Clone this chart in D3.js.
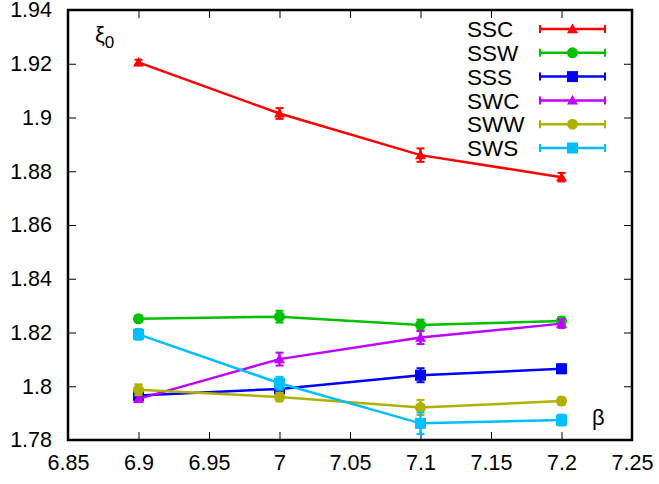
<!DOCTYPE html>
<html>
<head>
<meta charset="utf-8">
<script src="https://cdn.jsdelivr.net/npm/d3@7"></script>
<style>
  body { margin: 0; background: #fff; }
  text { font-family: "Liberation Sans", Arial, sans-serif; }
</style>
</head>
<body>
<svg id="chart"></svg>
<script>
// beta values
const betas = [6.9, 7.0, 7.1, 7.2];

// series names, colours, marker
const seriesNames = ["SSC", "SSW", "SSS", "SWC", "SWW", "SWS"];
const seriesColors = ["#ff0000", "#00c000", "#0000ff", "#c000ff", "#b0b000", "#00bfff"];
const seriesMarkers = ["triangle", "circle", "square", "triangle", "circle", "square"];

// xi_0 values
const ssc = [1.9205, 1.9015, 1.8860, 1.8778];
const ssw = [1.8251, 1.8259, 1.8228, 1.8243];
const sss = [1.7966, 1.7990, 1.8041, 1.8065];
const swc = [1.7953, 1.8101, 1.8181, 1.8233];
const sww = [1.7987, 1.7960, 1.7921, 1.7945];
const sws = [1.8193, 1.8011, 1.7862, 1.7874];

// error bars
const sscErr = [0.0010, 0.0020, 0.0025, 0.0016];
const sswErr = [0.0012, 0.0022, 0.0020, 0.0014];
const sssErr = [0.0012, 0.0016, 0.0026, 0.0016];
const swcErr = [0.0012, 0.0024, 0.0024, 0.0016];
const swwErr = [0.0020, 0.0016, 0.0028, 0.0014];
const swsErr = [0.0020, 0.0024, 0.0040, 0.0020];

const allValues = [ssc, ssw, sss, swc, sww, sws];
const allErrors = [sscErr, sswErr, sssErr, swcErr, swwErr, swsErr];

const xTicks = [6.85, 6.9, 6.95, 7.0, 7.05, 7.1, 7.15, 7.2, 7.25];
const yTicks = [1.78, 1.8, 1.82, 1.84, 1.86, 1.88, 1.9, 1.92, 1.94];

const W = 659, H = 484;
const margin = { top: 10, right: 27, bottom: 44, left: 68 };
const width = W - margin.left - margin.right;
const height = H - margin.top - margin.bottom;

const svg = d3.select("#chart")
    .attr("width", W)
    .attr("height", H)
    .append("g")
    .attr("transform", `translate(${margin.left},${margin.top})`);

const x = d3.scaleLinear().domain([6.85, 7.25]).range([0, width]);
const y = d3.scaleLinear().domain([1.78, 1.94]).range([height, 0]);

const fmt = d => String(+d.toFixed(2));

// axes with inward ticks, mirrored on top/right
const tickLen = 8;
svg.append("g")
    .attr("transform", `translate(0,${height})`)
    .call(d3.axisBottom(x).tickValues(xTicks).tickFormat(fmt).tickSizeInner(-tickLen).tickSizeOuter(0).tickPadding(15))
    .call(g => g.select(".domain").remove());
svg.append("g")
    .call(d3.axisTop(x).tickValues(xTicks.slice(1, -1)).tickFormat("").tickSizeInner(-tickLen).tickSizeOuter(0))
    .call(g => g.select(".domain").remove());
svg.append("g")
    .call(d3.axisLeft(y).tickValues(yTicks).tickFormat(fmt).tickSizeInner(-tickLen).tickSizeOuter(0).tickPadding(16))
    .call(g => g.select(".domain").remove());
svg.append("g")
    .attr("transform", `translate(${width},0)`)
    .call(d3.axisRight(y).tickValues(yTicks.slice(1, -1)).tickFormat("").tickSizeInner(-tickLen).tickSizeOuter(0))
    .call(g => g.select(".domain").remove());

svg.selectAll(".tick line").attr("stroke", "#000").attr("stroke-width", 1);
svg.selectAll(".tick text").attr("font-size", 21.5).attr("fill", "#000")
    .style("font-family", "'Liberation Sans', Arial, sans-serif");

// frame
svg.append("rect")
    .attr("width", width)
    .attr("height", height)
    .attr("fill", "none")
    .attr("stroke", "#000")
    .attr("stroke-width", 2.5);

function drawMarker(g, type, cx, cy, color) {
    if (type === "circle") {
        g.append("circle").attr("cx", cx).attr("cy", cy).attr("r", 5.5).attr("fill", color);
    } else if (type === "square") {
        g.append("rect").attr("x", cx - 5.5).attr("y", cy - 5.5).attr("width", 11).attr("height", 11).attr("fill", color);
    } else {
        const s = 5.5;
        g.append("path")
            .attr("d", `M${cx},${cy - s}L${cx + s},${cy + s * 0.75}L${cx - s},${cy + s * 0.75}Z`)
            .attr("fill", color);
    }
}

const line = d3.line().x(d => x(d[0])).y(d => y(d[1]));

seriesNames.forEach((name, i) => {
    const color = seriesColors[i];
    const pts = betas.map((b, j) => [b, allValues[i][j], allErrors[i][j]]);
    const g = svg.append("g");

    g.append("path")
        .datum(pts)
        .attr("d", line)
        .attr("fill", "none")
        .attr("stroke", color)
        .attr("stroke-width", 2.5);

    pts.forEach(p => {
        const cx = x(p[0]);
        const y1 = y(p[1] - p[2]), y2 = y(p[1] + p[2]);
        g.append("line").attr("x1", cx).attr("x2", cx).attr("y1", y1).attr("y2", y2)
            .attr("stroke", color).attr("stroke-width", 2.5);
        [y1, y2].forEach(yy => {
            g.append("line").attr("x1", cx - 4).attr("x2", cx + 4).attr("y1", yy).attr("y2", yy)
                .attr("stroke", color).attr("stroke-width", 2);
        });
        drawMarker(g, seriesMarkers[i], cx, y(p[1]), color);
    });
});

// legend
const legX0 = 540 - margin.left, legX1 = 605 - margin.left;
const legY0 = 29 - margin.top, legStep = 23.8;
seriesNames.forEach((name, i) => {
    const color = seriesColors[i];
    const yy = legY0 + i * legStep;
    const g = svg.append("g");
    g.append("text")
        .attr("x", 467 - margin.left)
        .attr("y", yy)
        .attr("dy", "0.36em")
        .attr("font-size", 22.5)
        .text(name);
    g.append("line").attr("x1", legX0).attr("x2", legX1).attr("y1", yy).attr("y2", yy)
        .attr("stroke", color).attr("stroke-width", 2.5);
    [legX0, legX1].forEach(xx => {
        g.append("line").attr("x1", xx).attr("x2", xx).attr("y1", yy - 4).attr("y2", yy + 4)
            .attr("stroke", color).attr("stroke-width", 2);
    });
    drawMarker(g, seriesMarkers[i], (legX0 + legX1) / 2, yy, color);
});

// axis labels
const yl = svg.append("text")
    .attr("x", 95 - margin.left)
    .attr("y", 42 - margin.top)
    .attr("font-size", 22);
yl.append("tspan").text("ξ");
yl.append("tspan").attr("dy", 6).attr("font-size", 17).text("0");

svg.append("text")
    .attr("x", 592 - margin.left)
    .attr("y", 425 - margin.top)
    .attr("font-size", 22)
    .text("β");
</script>
</body>
</html>
